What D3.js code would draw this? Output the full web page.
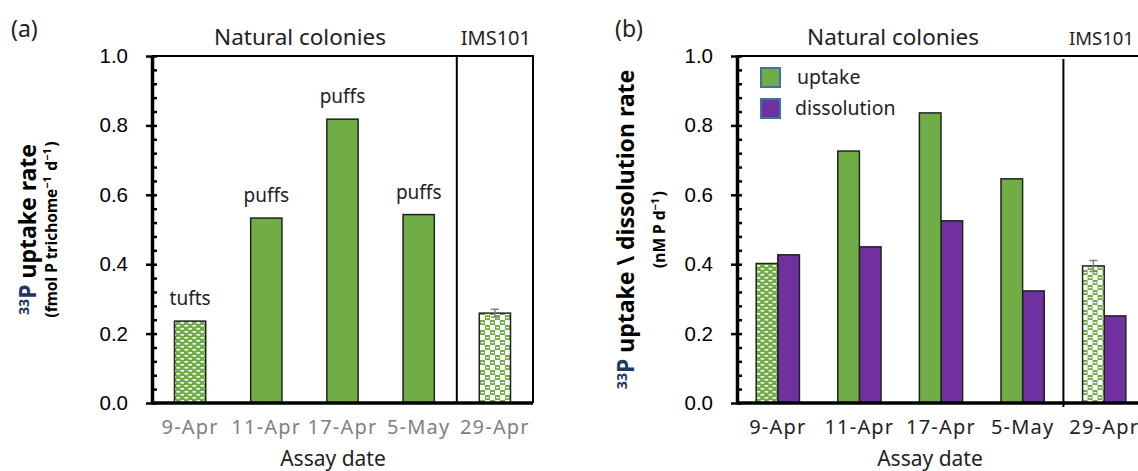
<!DOCTYPE html>
<html>
<head>
<meta charset="utf-8">
<script src="https://cdn.jsdelivr.net/npm/d3@7"></script>
<style>
  body { margin: 0; background: #fff; }
  svg { display: block; }
</style>
</head>
<body>
<svg id="chart" width="1138" height="471"></svg>
<script>
// data (a) - uptake per trichome
const datesA = ["9-Apr", "11-Apr", "17-Apr", "5-May", "29-Apr"];
const uptakeA = [0.236, 0.533, 0.818, 0.543, 0.259];
const errorA = [0, 0, 0, 0, 0.011];
const formA = ["tufts", "puffs", "puffs", "puffs", ""];

// data (b) - volumetric uptake vs dissolution
const datesB = ["9-Apr", "11-Apr", "17-Apr", "5-May", "29-Apr"];
const uptakeB = [0.402, 0.726, 0.836, 0.646, 0.395];
const errorB = [0, 0, 0, 0, 0.016];
const dissolutionB = [0.427, 0.450, 0.525, 0.323, 0.251];
const seriesB = ["uptake", "dissolution"];

const yTicks = [0, 0.2, 0.4, 0.6, 0.8, 1.0];

const GREEN = "#70ad47", PURPLE = "#7030a0";
const svg = d3.select("#chart");

// fill patterns for the tuft sample and the culture sample
const defs = svg.append("defs");
const dash = defs.append("pattern").attr("id", "dashFill")
  .attr("patternUnits", "userSpaceOnUse").attr("width", 8).attr("height", 6);
dash.append("rect").attr("width", 8).attr("height", 6).attr("fill", GREEN);
dash.append("rect").attr("x", 0.5).attr("y", 1).attr("width", 3.5).attr("height", 1.6).attr("fill", "#fff");
dash.append("rect").attr("x", 4.5).attr("y", 4).attr("width", 3.5).attr("height", 1.6).attr("fill", "#fff");

const check = defs.append("pattern").attr("id", "checkFill")
  .attr("patternUnits", "userSpaceOnUse").attr("width", 10).attr("height", 10);
check.append("rect").attr("width", 10).attr("height", 10).attr("fill", "#fff");
check.append("rect").attr("width", 5).attr("height", 5).attr("fill", GREEN);
check.append("rect").attr("x", 5).attr("y", 5).attr("width", 5).attr("height", 5).attr("fill", GREEN);
check.append("rect").attr("x", 1).attr("y", 2).attr("width", 3).attr("height", 1.2).attr("fill", "#fff");
check.append("rect").attr("x", 6).attr("y", 7).attr("width", 3).attr("height", 1.2).attr("fill", "#fff");

const fillFor = (i, base) => i === 0 ? "url(#dashFill)" : i === 4 ? "url(#checkFill)" : base;

const tickFont = "'Liberation Sans', Arial, sans-serif";
const textFont = "'Noto Sans', 'Open Sans', sans-serif";
const boldFont = "'Noto Sans', 'Open Sans', sans-serif";

function yAxis(g, y) {
  g.append("g").call(d3.axisLeft(y).tickValues(d3.range(0, 1.0001, 0.04)).tickSizeInner(-5).tickSizeOuter(0).tickFormat(""))
    .call(s => s.selectAll(".tick line").attr("stroke-width", 2.5))
    .call(s => s.select(".domain").attr("stroke-width", 3.5));
  g.append("g").call(d3.axisLeft(y).tickValues(yTicks).tickSizeInner(6).tickSizeOuter(0).tickPadding(18).tickFormat(d3.format(".1f")))
    .call(s => s.select(".domain").remove())
    .call(s => s.selectAll(".tick line").attr("stroke-width", 2.5))
    .call(s => s.selectAll("text").attr("font-family", tickFont).attr("font-size", 20.5).attr("fill", "#000"));
}

function xLabels(g, x, yPos, color) {
  g.append("g").attr("transform", `translate(0,${yPos})`)
    .call(d3.axisBottom(x).tickSize(0).tickPadding(17))
    .call(s => s.select(".domain").remove())
    .call(s => s.selectAll("text").attr("font-family", textFont).attr("font-size", 20)
      .attr("fill", color).attr("letter-spacing", 1.2));
}

function yTitle(g, cx, cy, mainText, unitParts, dx2, mainSize, unitSize) {
  const t = g.append("text").attr("transform", `translate(${cx},${cy}) rotate(-90)`)
    .attr("text-anchor", "middle").attr("font-family", boldFont).attr("font-weight", 700)
    .attr("font-size", mainSize).attr("fill", "#000");
  t.append("tspan").attr("fill", "#1f3864").attr("font-size", mainSize * 0.62).attr("dy", -mainSize * 0.3).text("33");
  t.append("tspan").attr("fill", "#1f3864").attr("dy", mainSize * 0.3).text("P");
  t.append("tspan").text(" " + mainText);

  const u = g.append("text").attr("transform", `translate(${cx + dx2},${cy}) rotate(-90)`)
    .attr("text-anchor", "middle").attr("font-family", boldFont).attr("font-weight", 700)
    .attr("font-size", unitSize).attr("fill", "#000");
  unitParts.forEach(p => {
    if (p.sup) {
      u.append("tspan").attr("font-size", unitSize * 0.7).attr("dy", -unitSize * 0.4).text(p.t);
      u.append("tspan").attr("font-size", unitSize).attr("dy", unitSize * 0.4).text("\u200a");
    } else {
      u.append("tspan").text(p.t);
    }
  });
}

function errorBar(g, cx, y, v, e) {
  if (!e) return;
  g.append("path")
    .attr("d", `M${cx - 4},${y(v + e)}H${cx + 4}M${cx},${y(v + e)}V${y(v - e)}M${cx - 4},${y(v - e)}H${cx + 4}`)
    .attr("stroke", "#7f7f7f").attr("stroke-width", 1.5).attr("fill", "none");
}

// ---------- panel (a)
(function () {
  const left = 152, right = 533, top = 56, bottom = 403;
  const x = d3.scaleBand().domain(datesA).range([left, right]).paddingInner(0.59).paddingOuter(0.295);
  const y = d3.scaleLinear().domain([0, 1]).range([bottom, top]);
  const g = svg.append("g");

  g.selectAll("rect.bar").data(uptakeA).join("rect").attr("class", "bar")
    .attr("x", (d, i) => x(datesA[i])).attr("width", x.bandwidth())
    .attr("y", d => y(d)).attr("height", d => y(0) - y(d))
    .attr("fill", (d, i) => fillFor(i, GREEN)).attr("stroke", "#222").attr("stroke-width", 1.5);

  uptakeA.forEach((v, i) => errorBar(g, x(datesA[i]) + x.bandwidth() / 2, y, v, errorA[i]));

  g.selectAll("text.form").data(formA).join("text").attr("class", "form")
    .attr("x", (d, i) => x(datesA[i]) + x.bandwidth() / 2).attr("y", (d, i) => y(uptakeA[i]) - 16)
    .attr("text-anchor", "middle").attr("font-family", textFont).attr("font-size", 19).attr("fill", "#222")
    .text(d => d);

  // frame: top, right, culture divider, baseline
  const divX = (x("5-May") + x.bandwidth() + x("29-Apr")) / 2;
  g.append("path").attr("d", `M${left},${top}H${right}V${bottom}`).attr("stroke", "#000").attr("stroke-width", 2).attr("fill", "none");
  g.append("line").attr("x1", divX).attr("x2", divX).attr("y1", top).attr("y2", bottom).attr("stroke", "#000").attr("stroke-width", 2);
  g.append("line").attr("x1", left).attr("x2", right).attr("y1", bottom).attr("y2", bottom).attr("stroke", "#000").attr("stroke-width", 3.5);

  g.append("g").attr("transform", `translate(${left},0)`).call(s => yAxis(s, y));
  xLabels(g, x, bottom, "#7f7f7f");

  g.append("text").attr("x", 300).attr("y", 45).attr("text-anchor", "middle")
    .attr("font-family", textFont).attr("font-size", 22.5).attr("fill", "#222").text("Natural colonies");
  g.append("text").attr("x", (divX + right) / 2 + 1).attr("y", 45).attr("text-anchor", "middle")
    .attr("font-family", textFont).attr("font-size", 20).attr("fill", "#222").text("IMS101");
  g.append("text").attr("x", 11).attr("y", 37).attr("font-family", textFont).attr("font-size", 23).attr("fill", "#222").text("(a)");
  g.append("text").attr("x", 333).attr("y", 466).attr("text-anchor", "middle")
    .attr("font-family", textFont).attr("font-size", 21).attr("fill", "#222").text("Assay date");

  yTitle(g, 36, (top + bottom) / 2, "uptake rate",
    [{ t: "(fmol P trichome" }, { t: "\u22121", sup: true }, { t: " d" }, { t: "\u22121", sup: true }, { t: ")" }], 21, 23, 15.5);
})();

// ---------- panel (b)
(function () {
  const left = 737, right = 1145, top = 56, bottom = 403;
  const x = d3.scaleBand().domain(datesB).range([left, right]).paddingInner(0.47).paddingOuter(0.235);
  const xs = d3.scaleBand().domain(seriesB).range([0, x.bandwidth()]);
  const y = d3.scaleLinear().domain([0, 1]).range([bottom, top]);
  const g = svg.append("g");

  const groups = g.selectAll("g.grp").data(datesB).join("g").attr("class", "grp")
    .attr("transform", d => `translate(${x(d)},0)`);
  groups.append("rect")
    .attr("x", xs("dissolution")).attr("width", xs.bandwidth())
    .attr("y", (d, i) => y(dissolutionB[i])).attr("height", (d, i) => y(0) - y(dissolutionB[i]))
    .attr("fill", PURPLE).attr("stroke", "#222").attr("stroke-width", 1.5);
  groups.append("rect")
    .attr("x", xs("uptake")).attr("width", xs.bandwidth())
    .attr("y", (d, i) => y(uptakeB[i])).attr("height", (d, i) => y(0) - y(uptakeB[i]))
    .attr("fill", (d, i) => fillFor(i, GREEN)).attr("stroke", "#222").attr("stroke-width", 1.5);

  uptakeB.forEach((v, i) => errorBar(g, x(datesB[i]) + xs("uptake") + xs.bandwidth() / 2, y, v, errorB[i]));

  const divX = (x("5-May") + x.bandwidth() + x("29-Apr")) / 2;
  g.append("line").attr("x1", left).attr("x2", 1138).attr("y1", top).attr("y2", top).attr("stroke", "#000").attr("stroke-width", 2);
  g.append("line").attr("x1", divX).attr("x2", divX).attr("y1", top + 3).attr("y2", bottom + 4).attr("stroke", "#000").attr("stroke-width", 2);
  g.append("line").attr("x1", left).attr("x2", 1138).attr("y1", bottom).attr("y2", bottom).attr("stroke", "#000").attr("stroke-width", 3.5);

  g.append("g").attr("transform", `translate(${left},0)`).call(s => yAxis(s, y));
  xLabels(g, x, bottom, "#222");

  // legend
  const lg = g.append("g").attr("transform", "translate(760,67)");
  seriesB.forEach((s, i) => {
    lg.append("rect").attr("x", 1).attr("y", i * 31 + 1).attr("width", 19).attr("height", 19)
      .attr("fill", i === 0 ? GREEN : PURPLE).attr("stroke", "#41719c").attr("stroke-width", 2);
    lg.append("text").attr("x", i === 0 ? 37 : 35).attr("y", i * 31 + 17)
      .attr("font-family", textFont).attr("font-size", 19.5).attr("fill", "#222").text(s);
  });

  g.append("text").attr("x", 893).attr("y", 45).attr("text-anchor", "middle")
    .attr("font-family", textFont).attr("font-size", 22.5).attr("fill", "#222").text("Natural colonies");
  g.append("text").attr("x", 1069).attr("y", 45)
    .attr("font-family", textFont).attr("font-size", 18.5).attr("fill", "#222").text("IMS101");
  g.append("text").attr("x", 615).attr("y", 37).attr("font-family", textFont).attr("font-size", 23).attr("fill", "#222").text("(b)");
  g.append("text").attr("x", 930).attr("y", 466).attr("text-anchor", "middle")
    .attr("font-family", textFont).attr("font-size", 21).attr("fill", "#222").text("Assay date");

  yTitle(g, 634, (top + bottom) / 2, "uptake \\ dissolution rate",
    [{ t: "(nM P  d" }, { t: "\u22121", sup: true }, { t: ")" }], 31, 23, 15.5);
})();
</script>
</body>
</html>
